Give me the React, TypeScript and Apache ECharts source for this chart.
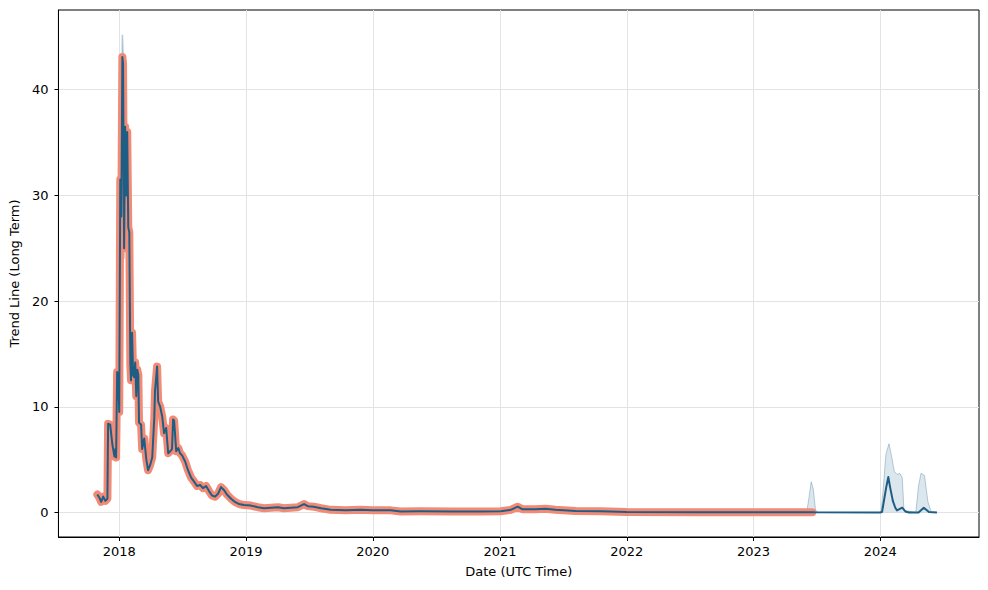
import React, { useEffect, useRef } from "react";
import * as echarts from "echarts";

// Observed (historical) trend line
const actualDates = [
  "2017-10-30", "2017-11-05", "2017-11-10", "2017-11-16", "2017-11-22", "2017-11-28",
  "2017-11-30", "2017-12-06", "2017-12-12", "2017-12-18", "2017-12-21", "2017-12-23",
  "2017-12-26", "2017-12-29", "2018-01-01", "2018-01-04", "2018-01-07", "2018-01-10",
  "2018-01-12", "2018-01-15", "2018-01-18", "2018-01-21", "2018-01-24", "2018-01-27",
  "2018-01-30", "2018-02-02", "2018-02-04", "2018-02-07", "2018-02-10", "2018-02-13",
  "2018-02-16", "2018-02-19", "2018-02-22", "2018-02-25", "2018-02-27", "2018-03-05",
  "2018-03-08", "2018-03-14", "2018-03-20", "2018-03-25", "2018-03-31", "2018-04-06",
  "2018-04-12", "2018-04-14", "2018-04-20", "2018-04-23", "2018-04-29", "2018-05-05",
  "2018-05-10", "2018-05-16", "2018-05-22", "2018-05-28", "2018-06-02", "2018-06-05",
  "2018-06-08", "2018-06-14", "2018-06-20", "2018-06-25", "2018-07-01", "2018-07-10",
  "2018-07-18", "2018-07-27", "2018-08-05", "2018-08-13", "2018-08-22", "2018-08-30",
  "2018-09-08", "2018-09-17", "2018-09-25", "2018-10-04", "2018-10-13", "2018-10-21",
  "2018-10-30", "2018-11-07", "2018-11-19", "2018-11-30", "2018-12-12", "2018-12-26",
  "2019-01-15", "2019-02-04", "2019-02-22", "2019-03-14", "2019-04-03", "2019-04-20",
  "2019-05-10", "2019-05-30", "2019-06-17", "2019-06-28", "2019-07-15", "2019-08-05",
  "2019-09-02", "2019-10-15", "2019-11-27", "2020-01-01", "2020-02-22", "2020-03-21",
  "2020-05-18", "2020-08-12", "2020-11-06", "2021-01-03", "2021-02-01", "2021-02-21",
  "2021-03-07", "2021-04-13", "2021-05-12", "2021-06-10", "2021-08-07", "2021-10-18",
  "2022-01-01", "2022-08-01", "2022-12-31", "2023-06-19",
];
const actualValues = [
  1.7, 1.4, 1.0, 1.5, 1.1, 1.3,
  8.4, 8.3, 6.5, 5.3, 6.0, 5.2,
  13.3, 13.0, 9.5, 31.5, 28.0, 43.1,
  42.5, 25.0, 36.5, 30.0, 36.0, 27.0,
  26.5, 14.0, 12.5, 17.0, 13.0, 12.8,
  14.2, 11.0, 13.5, 13.0, 8.5, 8.3,
  6.0, 7.0, 5.0, 4.0, 4.5, 5.2,
  9.0, 11.5, 13.8, 10.5, 10.0, 9.0,
  7.5, 8.0, 5.6, 5.8, 6.0, 8.8,
  8.7, 5.8, 6.1, 5.6, 5.4, 4.8,
  4.0, 3.3, 2.9, 2.5, 2.6, 2.3,
  2.5, 2.0, 1.6, 1.5, 1.8, 2.4,
  2.1, 1.7, 1.3, 1.0, 0.8, 0.7,
  0.65, 0.5, 0.4, 0.45, 0.5, 0.4,
  0.45, 0.5, 0.8, 0.6, 0.55, 0.4,
  0.25, 0.2, 0.25, 0.22, 0.2, 0.1,
  0.12, 0.1, 0.1, 0.12, 0.25, 0.55,
  0.3, 0.3, 0.35, 0.25, 0.15, 0.12,
  0.05, 0.03, 0.02, 0.02,
];

// Forecast continuation of the trend line
const forecastDates = [
  "2023-06-26", "2023-12-31", "2024-01-06", "2024-01-10", "2024-01-18", "2024-01-24",
  "2024-01-29", "2024-02-06", "2024-02-13", "2024-02-18", "2024-03-04", "2024-03-13",
  "2024-03-23", "2024-04-20", "2024-05-05", "2024-05-20", "2024-06-12",
];
const forecastValues = [
  0.01, 0.0, 0.05, 0.85, 2.4, 3.35,
  2.4, 1.1, 0.45, 0.2, 0.45, 0.1,
  0.0, 0.0, 0.45, 0.05, 0.0,
];

// Uncertainty band around the forecast (lower bound at 0)
const bandDates = [
  "2023-06-03", "2023-06-10", "2023-06-16", "2023-06-22", "2023-06-28", "2023-07-05",
  "2024-01-03", "2024-01-10", "2024-01-17", "2024-01-26", "2024-02-03", "2024-02-10",
  "2024-02-18", "2024-02-26", "2024-03-04", "2024-03-09", "2024-04-12", "2024-04-20",
  "2024-04-27", "2024-05-07", "2024-05-17", "2024-05-27",
];
const bandUpper = [
  0.0, 1.5, 2.9, 2.2, 0.3, 0.0,
  0.0, 2.5, 5.5, 6.5, 5.2, 3.9,
  3.6, 3.7, 3.3, 0.2, 0.0, 2.5,
  3.7, 3.5, 1.0, 0.0,
];

// Uncertainty band visible around the January 2018 peak
const peakBandDates = ["2018-01-07", "2018-01-10", "2018-01-12", "2018-01-15"];
const peakBandLower = [27.0, 41.0, 41.0, 24.0];
const peakBandUpper = [30.0, 45.2, 43.5, 27.0];

const yTicks = [0, 10, 20, 30, 40];
const xYears = ["2018", "2019", "2020", "2021", "2022", "2023", "2024"];

const FONT = "DejaVu Sans";
const SALMON = "#F28B76";
const BLUE = "#1F5E84";
const BAND = "rgba(110,155,180,0.35)";
const BAND_EDGE = "rgba(110,155,180,0.5)";

export default function App() {
  const ref = useRef<HTMLDivElement>(null);

  useEffect(() => {
    const chart = echarts.init(ref.current!, null, { renderer: "svg" });
    const ts = (d: string) => new Date(d + "T00:00:00Z").getTime();
    const pairs = (ds: string[], vs: number[]) => ds.map((d, i) => [ts(d), vs[i]]);
    const yearTicks = xYears.map((y) => ts(y + "-01-01"));

    const trendDates = actualDates.concat(forecastDates);
    const trendValues = actualValues.concat(forecastValues);

    chart.setOption({
      animation: false,
      textStyle: { fontFamily: FONT },
      grid: {
        left: 57,
        right: 9,
        top: 10,
        bottom: 53,
        show: true,
        borderColor: "#000",
        borderWidth: 1,
        backgroundColor: "transparent",
      },
      xAxis: {
        type: "value",
        min: ts("2017-07-10"),
        max: ts("2024-10-11"),
        scale: true,
        name: "Date (UTC Time)",
        nameLocation: "middle",
        nameGap: 28,
        nameTextStyle: { fontFamily: FONT, fontSize: 13, color: "#000" },
        axisLine: { show: true, onZero: false, lineStyle: { color: "#000", width: 1 } },
        axisTick: {
          show: true,
          length: 4,
          inside: false,
          lineStyle: { color: "#000" },
          customValues: yearTicks,
        },
        axisLabel: {
          fontFamily: FONT,
          fontSize: 13,
          color: "#000",
          margin: 8,
          customValues: yearTicks,
          formatter: (v: number) => String(new Date(v).getUTCFullYear()),
        },
        splitLine: { show: false },
      },
      yAxis: {
        type: "value",
        min: -2.32,
        max: 47.54,
        name: "Trend Line (Long Term)",
        nameLocation: "middle",
        nameGap: 34,
        nameTextStyle: { fontFamily: FONT, fontSize: 13, color: "#000" },
        axisLine: { show: true, onZero: false, lineStyle: { color: "#000", width: 1 } },
        axisTick: {
          show: true,
          length: 4,
          inside: false,
          lineStyle: { color: "#000" },
          customValues: yTicks,
        },
        axisLabel: {
          fontFamily: FONT,
          fontSize: 13,
          color: "#000",
          margin: 10,
          customValues: yTicks,
          formatter: (v: number) => String(v),
        },
        splitLine: { show: false },
      },
      series: [
        {
          name: "grid",
          type: "line",
          data: [],
          silent: true,
          z: 0,
          markLine: {
            silent: true,
            z: 0,
            symbol: "none",
            label: { show: false },
            emphasis: { disabled: true },
            lineStyle: { color: "#e3e3e3", width: 1, type: "solid" },
            data: [
              ...yearTicks.map((t) => ({ xAxis: t })),
              ...yTicks.map((v) => ({ yAxis: v })),
            ],
          },
        },
        {
          name: "peakBand",
          type: "custom",
          silent: true,
          z: 1,
          data: [[ts(peakBandDates[0]), peakBandUpper[0]]],
          renderItem: (_params: any, api: any) => {
            const top = peakBandDates.map((d, i) => api.coord([ts(d), peakBandUpper[i]]));
            const bottom = peakBandDates
              .map((d, i) => api.coord([ts(d), peakBandLower[i]]))
              .reverse();
            return {
              type: "polygon",
              shape: { points: top.concat(bottom) },
              style: { fill: BAND, stroke: BAND_EDGE, lineWidth: 1.5 },
            };
          },
        },
        {
          name: "forecastBand",
          type: "line",
          data: pairs(bandDates, bandUpper),
          symbol: "none",
          lineStyle: { color: BAND_EDGE, width: 1 },
          areaStyle: { color: BAND, origin: 0 },
          z: 1,
        },
        {
          name: "actual",
          type: "line",
          data: pairs(actualDates, actualValues),
          symbol: "none",
          lineStyle: { color: SALMON, width: 8, cap: "round", join: "round" },
          z: 2,
        },
        {
          name: "trend",
          type: "line",
          data: pairs(trendDates, trendValues),
          symbol: "none",
          lineStyle: { color: BLUE, width: 2, join: "round" },
          z: 3,
        },
      ],
    });
    return () => chart.dispose();
  }, []);

  return (
    <div
      ref={ref}
      style={{ position: "fixed", left: 0, top: 0, width: 988, height: 590, background: "#fff" }}
    />
  );
}
